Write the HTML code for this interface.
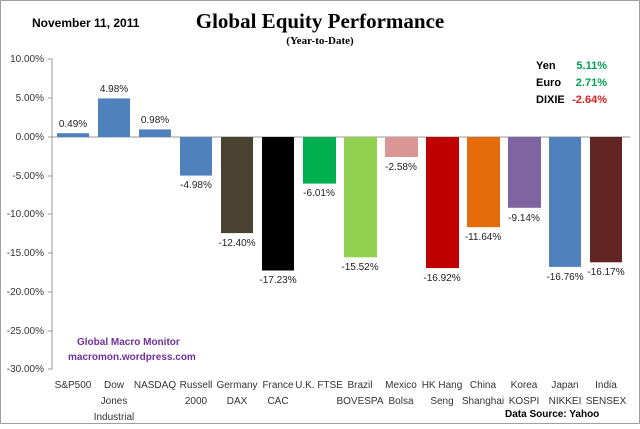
<!DOCTYPE html><html><head><style>body{margin:0;background:#fff}</style></head><body>
<svg width="640" height="424" xmlns="http://www.w3.org/2000/svg" font-family="Liberation Sans, sans-serif">
<rect x="0.5" y="0.5" width="639" height="423" fill="#fff" stroke="#a0a0a0"/>
<text x="32" y="27" font-size="12" font-weight="bold">November 11,  2011</text>
<text x="320" y="28" font-size="21" font-weight="bold" font-family="Liberation Serif, serif" text-anchor="middle">Global Equity Performance</text>
<text x="320" y="44" font-size="11" font-weight="bold" font-family="Liberation Serif, serif" text-anchor="middle">(Year-to-Date)</text>
<g font-size="11" font-weight="bold"><text x="536" y="69">Yen</text><text x="536" y="86">Euro</text><text x="536" y="103">DIXIE</text>
<text x="607" y="69" text-anchor="end" fill="#00a050">5.11%</text><text x="607" y="86" text-anchor="end" fill="#00a050">2.71%</text><text x="607" y="103" text-anchor="end" fill="#e02020">-2.64%</text></g>
<g font-size="10" fill="#333" text-anchor="end">
<text x="44" y="62">10.00%</text><text x="44" y="101">5.00%</text><text x="44" y="140">0.00%</text><text x="44" y="179">-5.00%</text><text x="44" y="217">-10.00%</text><text x="44" y="256">-15.00%</text><text x="44" y="295">-20.00%</text><text x="44" y="334">-25.00%</text><text x="44" y="372">-30.00%</text></g>
<g stroke="#999"><line x1="52" y1="59" x2="52" y2="369"/>
<line x1="48" y1="59" x2="52" y2="59"/><line x1="48" y1="98" x2="52" y2="98"/><line x1="48" y1="137" x2="52" y2="137"/><line x1="48" y1="176" x2="52" y2="176"/><line x1="48" y1="214" x2="52" y2="214"/><line x1="48" y1="253" x2="52" y2="253"/><line x1="48" y1="292" x2="52" y2="292"/><line x1="48" y1="331" x2="52" y2="331"/><line x1="48" y1="369" x2="52" y2="369"/>
<line x1="52" y1="137" x2="630" y2="137"/></g>
<g>
<rect x="57" y="133.2" width="32" height="3.8" fill="#4f81bd"/>
<rect x="98" y="98.4" width="32" height="38.6" fill="#4f81bd"/>
<rect x="139" y="129.4" width="32" height="7.6" fill="#4f81bd"/>
<rect x="180" y="137" width="32" height="38.6" fill="#4f81bd"/>
<rect x="221" y="137" width="32" height="96.1" fill="#4a4230"/>
<rect x="262" y="137" width="32" height="133.5" fill="#000"/>
<rect x="303" y="137" width="33" height="46.6" fill="#00b050"/>
<rect x="344" y="137" width="33" height="120.3" fill="#92d050"/>
<rect x="385" y="137" width="33" height="20" fill="#d99694"/>
<rect x="426" y="137" width="33" height="131.1" fill="#c00000"/>
<rect x="467" y="137" width="33" height="90.2" fill="#e46c0a"/>
<rect x="508" y="137" width="33" height="70.8" fill="#8064a2"/>
<rect x="549" y="137" width="32" height="129.9" fill="#4f81bd"/>
<rect x="590" y="137" width="32" height="125.3" fill="#632523"/>
</g>
<g font-size="10" fill="#222" text-anchor="middle">
<text x="73" y="127">0.49%</text><text x="114" y="92">4.98%</text><text x="155" y="123">0.98%</text>
<text x="196" y="188">-4.98%</text><text x="237" y="246">-12.40%</text><text x="278" y="283">-17.23%</text><text x="319" y="196">-6.01%</text><text x="360" y="270">-15.52%</text><text x="401" y="170">-2.58%</text><text x="442" y="281">-16.92%</text><text x="483" y="240">-11.64%</text><text x="524" y="221">-9.14%</text><text x="565" y="280">-16.76%</text><text x="606" y="275">-16.17%</text>
</g>
<g font-size="10" fill="#333" text-anchor="middle">
<text x="73" y="388">S&amp;P500</text>
<text x="114" y="388">Dow</text><text x="114" y="404">Jones</text><text x="114" y="420">Industrial</text>
<text x="155" y="388">NASDAQ</text>
<text x="196" y="388">Russell</text><text x="196" y="404">2000</text>
<text x="237" y="388">Germany</text><text x="237" y="404">DAX</text>
<text x="278" y="388">France</text><text x="278" y="404">CAC</text>
<text x="319" y="388">U.K. FTSE</text>
<text x="360" y="388">Brazil</text><text x="360" y="404">BOVESPA</text>
<text x="401" y="388">Mexico</text><text x="401" y="404">Bolsa</text>
<text x="442" y="388">HK Hang</text><text x="442" y="404">Seng</text>
<text x="483" y="388">China</text><text x="483" y="404">Shanghai</text>
<text x="524" y="388">Korea</text><text x="524" y="404">KOSPI</text>
<text x="565" y="388">Japan</text><text x="565" y="404">NIKKEI</text>
<text x="606" y="388">India</text><text x="606" y="404">SENSEX</text>
</g>
<text x="505" y="417" font-size="10" font-weight="bold">Data Source:   Yahoo</text>
<g font-size="10" font-weight="bold" fill="#7030a0"><text x="77" y="345">Global  Macro  Monitor</text><text x="68" y="360">macromon.wordpress.com</text></g>
</svg>
</body></html>
